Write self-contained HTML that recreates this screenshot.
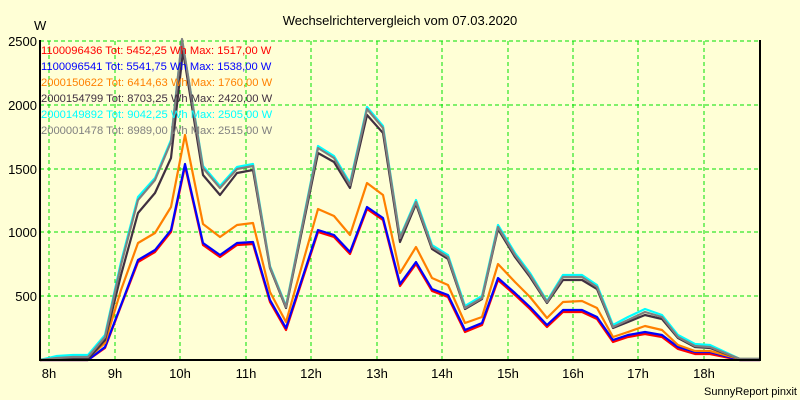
<!DOCTYPE html>
<html><head><meta charset="utf-8"><style>
body{margin:0;background:#ffffd6;}
svg{display:block;font-family:"Liberation Sans",sans-serif;}
</style></head><body>
<svg width="800" height="400" xmlns="http://www.w3.org/2000/svg">
<rect width="800" height="400" fill="#ffffd6"/>
<text x="400" y="25" font-size="13" text-anchor="middle">Wechselrichtervergleich vom 07.03.2020</text>
<text x="34" y="30" font-size="13">W</text>
<g stroke="#00e000" stroke-width="1" stroke-dasharray="4,3">
<line x1="40" y1="41" x2="760" y2="41"/><line x1="40" y1="105" x2="760" y2="105"/><line x1="40" y1="169" x2="760" y2="169"/><line x1="40" y1="232" x2="760" y2="232"/><line x1="40" y1="296" x2="760" y2="296"/>
<line x1="49" y1="41" x2="49" y2="360"/><line x1="115" y1="41" x2="115" y2="360"/><line x1="180" y1="41" x2="180" y2="360"/><line x1="246" y1="41" x2="246" y2="360"/><line x1="311" y1="41" x2="311" y2="360"/><line x1="377" y1="41" x2="377" y2="360"/><line x1="442" y1="41" x2="442" y2="360"/><line x1="508" y1="41" x2="508" y2="360"/><line x1="573" y1="41" x2="573" y2="360"/><line x1="638" y1="41" x2="638" y2="360"/><line x1="704" y1="41" x2="704" y2="360"/>
</g>
<g font-size="13" text-anchor="end">
<text x="37" y="46">2500</text><text x="37" y="110">2000</text><text x="37" y="174">1500</text><text x="37" y="237">1000</text><text x="37" y="301">500</text>
</g>
<g font-size="13" text-anchor="middle">
<text x="49" y="378">8h</text><text x="115" y="378">9h</text><text x="180" y="378">10h</text><text x="246" y="378">11h</text><text x="311" y="378">12h</text><text x="377" y="378">13h</text><text x="442" y="378">14h</text><text x="508" y="378">15h</text><text x="573" y="378">16h</text><text x="638" y="378">17h</text><text x="704" y="378">18h</text>
</g>
<text x="797" y="395" font-size="11" text-anchor="end">SunnyReport pinxit</text>
<g fill="none" stroke-width="2.2" stroke-linejoin="round">
<polyline stroke="#ff0000" points="40,360 57,360 73,360 88,360 105,348 121,306 138,262 155,252 171,232 185,166 203,245 220,257 237,245 253,244 270,302 286,330 318,232 334,237 350,254 367,209 383,220 400,286 416,264 432,291 448,297 465,332 482,325 498,280 515,295 530,309 547,327 563,312 582,312 597,319 613,342 628,337 645,334 662,337 678,349 695,354 710,354 740,360 760,360"/>
<polyline stroke="#0000ff" points="40,360 57,360 73,360 88,360 105,347 121,305 138,260 155,250 171,230 185,164 203,243 220,255 237,243 253,242 270,300 286,328 318,230 334,235 350,252 367,207 383,218 400,284 416,262 432,289 448,295 465,330 482,323 498,278 515,293 530,307 547,325 563,310 582,310 597,317 613,340 628,335 645,332 662,335 678,347 695,352 710,352 740,360 760,360"/>
<polyline stroke="#ff8000" points="40,360 57,359 73,358 88,358 105,343 121,290 138,243 155,233 171,207 185,135 203,224 220,237 237,225 253,223 270,292 286,322 318,209 334,216 350,235 367,183 383,195 400,273 416,247 432,278 448,285 465,323 482,317 498,264 515,282 530,297 547,318 563,302 582,301 597,308 613,337 628,332 645,326 662,330 678,345 695,351 710,351 740,359 760,359"/>
<polyline stroke="#00ffff" points="40,360 57,356 73,355 88,355 105,335 121,262 138,197 155,178 171,140 182,40 203,166 220,186 237,167 253,164 270,266 286,306 318,146 334,156 350,183 367,107 383,126 400,237 416,200 432,245 448,255 465,306 482,296 498,225 515,253 530,273 547,301 563,275 582,275 597,285 613,325 628,317 645,309 662,315 678,335 695,344 710,345 740,359 760,359"/>
<polyline stroke="#403040" points="40,360 57,359 73,359 88,359 105,340 121,275 138,213 155,193 171,158 183,51 203,175 220,195 237,173 253,170 270,268 286,308 318,153 334,162 350,188 367,115 383,133 400,242 416,204 432,249 448,259 465,309 482,299 498,229 515,257 530,277 547,303 563,280 582,280 597,289 613,328 628,322 645,315 662,319 678,338 695,347 710,348 740,359 760,359"/>
<polyline stroke="#808080" points="40,360 57,358 73,357 88,357 105,337 121,265 138,200 155,180 171,142 182,39 203,168 220,188 237,169 253,166 270,267 286,307 318,148 334,158 350,185 367,109 383,128 400,238 416,202 432,247 448,257 465,308 482,298 498,227 515,255 530,275 547,302 563,277 582,277 597,287 613,327 628,320 645,312 662,317 678,337 695,346 710,347 740,359 760,359"/>
</g>
<g stroke="#000" stroke-width="2">
<line x1="40" y1="40" x2="40" y2="360"/><line x1="39" y1="360" x2="761" y2="360"/><line x1="760" y1="40" x2="760" y2="360"/>
</g>
<g font-size="11.2">
<text x="41" y="54" fill="#ff0000">1100096436 Tot: 5452,25 Wh Max: 1517,00 W</text>
<text x="41" y="70" fill="#0000ff">1100096541 Tot: 5541,75 Wh Max: 1538,00 W</text>
<text x="41" y="86" fill="#ff8000">2000150622 Tot: 6414,63 Wh Max: 1760,00 W</text>
<text x="41" y="102" fill="#403040">2000154799 Tot: 8703,25 Wh Max: 2420,00 W</text>
<text x="41" y="118" fill="#00ffff">2000149892 Tot: 9042,25 Wh Max: 2505,00 W</text>
<text x="41" y="134" fill="#808080">2000001478 Tot: 8989,00 Wh Max: 2515,00 W</text>
</g>
</svg>
</body></html>
